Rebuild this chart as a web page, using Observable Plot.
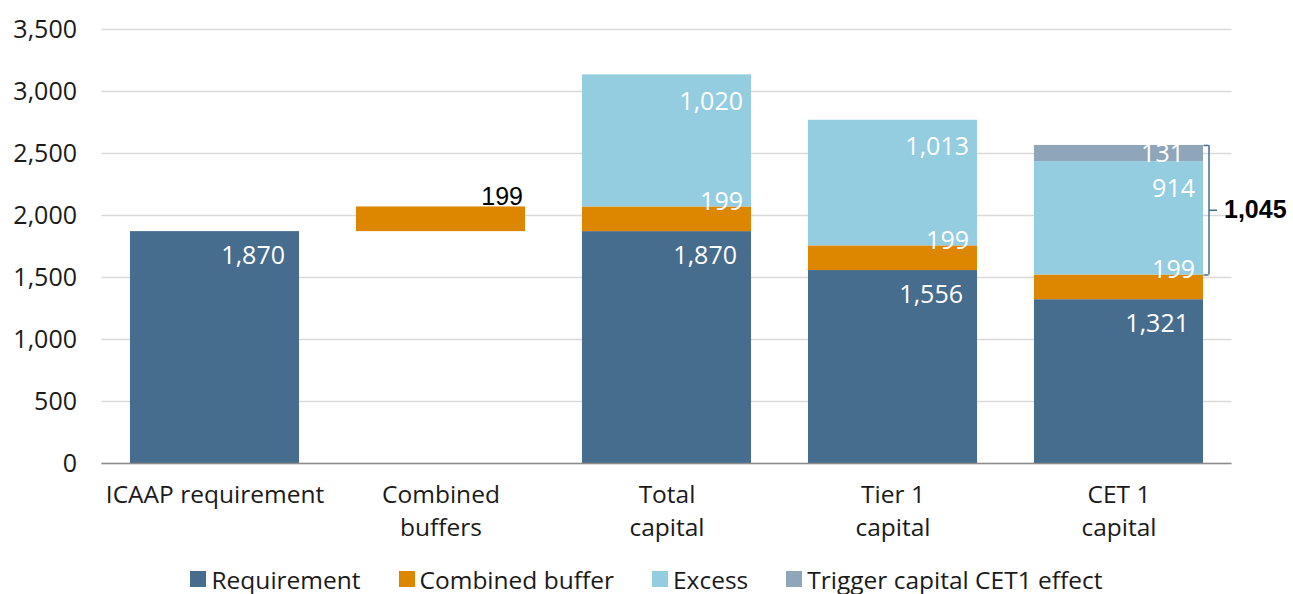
<!DOCTYPE html>
<html><head><meta charset="utf-8">
<script src="https://cdn.jsdelivr.net/npm/d3@7"></script>
<script src="https://cdn.jsdelivr.net/npm/@observablehq/plot@0.6"></script>
<style>
body{margin:0;background:#fff;font-family:"Open Sans",sans-serif;}
#wrap{position:relative;width:1293px;height:594px;}
#legend{position:absolute;left:0;top:564px;width:1293px;height:30px;display:flex;justify-content:center;align-items:center;font-size:24.5px;color:#1a1a1a;}
.item{display:flex;align-items:center;margin:0 19px;}
.sw{width:16px;height:16px;margin-right:5px;}
</style></head><body><div id="wrap"><div id="chart"></div><div id="legend"></div></div>
<script>
const categories = ["ICAAP requirement", "Combined\nbuffers", "Total\ncapital", "Tier 1\ncapital", "CET 1\ncapital"];
const seriesNames = ["Requirement", "Combined buffer", "Excess", "Trigger capital CET1 effect"];
const colors = ["#476d8e", "#dd8700", "#93cddf", "#8fa5ba"];
// bar heights as drawn in the picture
const requirement = [1870, null, 1870, 1556, 1321];
const buffer = [null, 199, 199, 199, 199];
const excess = [null, null, 1065, 1013, 914];
const trigger = [null, null, null, null, 131];
// printed value labels
const requirementLabels = ["1,870", null, "1,870", "1,556", "1,321"];
const bufferLabels = [null, "199", "199", "199", "199"];
const excessLabels = [null, null, "1,020", "1,013", "914"];
const triggerLabels = [null, null, null, null, "131"];
const bracketLabel = "1,045";
const yTicks = [0, 500, 1000, 1500, 2000, 2500, 3000, 3500];

const seriesVals = [requirement, buffer, excess, trigger];
const seriesLabels = [requirementLabels, bufferLabels, excessLabels, triggerLabels];
const segs = [];
categories.forEach((cat, i) => {
  // waterfall: the standalone buffer bar floats on the ICAAP requirement
  let base = requirement[i] == null ? requirement[0] : 0;
  seriesVals.forEach((arr, s) => {
    const v = arr[i];
    if (v == null) return;
    segs.push({cat, series: seriesNames[s], label: seriesLabels[s][i], y1: base, y2: base + v, standalone: requirement[i] == null});
    base += v;
  });
});
const fmt = d3.format(",");
const last = categories.length - 1;
const lo = requirement[last] + buffer[last];
const hi = lo + excess[last] + trigger[last];
const mid = (lo + hi) / 2;

const byS = s => segs.filter(d => d.series === s && !d.standalone);
const lab = {fill: "white", fontSize: 25, textAnchor: "end", text: "label", x: "cat", y: "y2"};
const brk = {stroke: "#476d8e", strokeWidth: 1.5};

const chart = Plot.plot({
  width: 1293, height: 560,
  marginTop: 29, marginBottom: 97, marginLeft: 101.5, marginRight: 61.5,
  style: {fontFamily: "Open Sans", fontSize: "25px", color: "#1a1a1a", background: "white"},
  x: {domain: categories, paddingInner: 0.252, paddingOuter: 0.126, round: false, label: null},
  y: {domain: [0, 3500], label: null},
  color: {domain: seriesNames, range: colors},
  marks: [
    Plot.gridY(yTicks, {stroke: "#d9d9d9", strokeOpacity: 1, strokeWidth: 1.5}),
    Plot.axisY(yTicks, {tickSize: 0, tickPadding: 25, fontSize: 25, tickFormat: fmt, label: null}),
    Plot.axisX({tickSize: 0, tickPadding: 17, fontSize: 24.5, lineHeight: 1.32, label: null}),
    Plot.barY(segs, {x: "cat", y1: "y1", y2: "y2", fill: "series"}),
    Plot.ruleY([0], {stroke: "#8c8c8c", strokeWidth: 1.5}),
    Plot.text(byS("Requirement"), {...lab, dx: 70, dy: 24}),
    Plot.text(byS("Combined buffer"), {...lab, dx: 76, dy: -5}),
    Plot.text(byS("Excess"), {...lab, dx: 76, dy: 27}),
    Plot.text(byS("Trigger capital CET1 effect"), {...lab, dx: 65, dy: 9}),
    Plot.text(segs.filter(d => d.standalone), {...lab, fill: "black", fontFamily: "Liberation Sans", fontSize: 25, dx: 82, dy: -10}),
    Plot.ruleX([categories[last]], {x: d => d, y1: lo, y2: hi, dx: 90, ...brk}),
    Plot.tickY([lo, hi], {x: () => categories[last], y: d => d, insetLeft: 164, dx: 5.5, ...brk}),
    Plot.tickY([mid], {x: () => categories[last], y: d => d, insetLeft: 161, dx: 14, ...brk}),
    Plot.text([bracketLabel], {x: () => categories[last], y: () => mid, text: d => d, dx: 105, textAnchor: "start", fontFamily: "Liberation Sans", fontWeight: "bold", fontSize: 25, fill: "black"})
  ]
});
document.getElementById("chart").appendChild(chart);

const legend = document.getElementById("legend");
seriesNames.forEach((s, i) => {
  const it = document.createElement("div"); it.className = "item";
  const sw = document.createElement("div"); sw.className = "sw"; sw.style.background = colors[i];
  const t = document.createElement("span"); t.textContent = s;
  it.appendChild(sw); it.appendChild(t); legend.appendChild(it);
});
</script></body></html>
